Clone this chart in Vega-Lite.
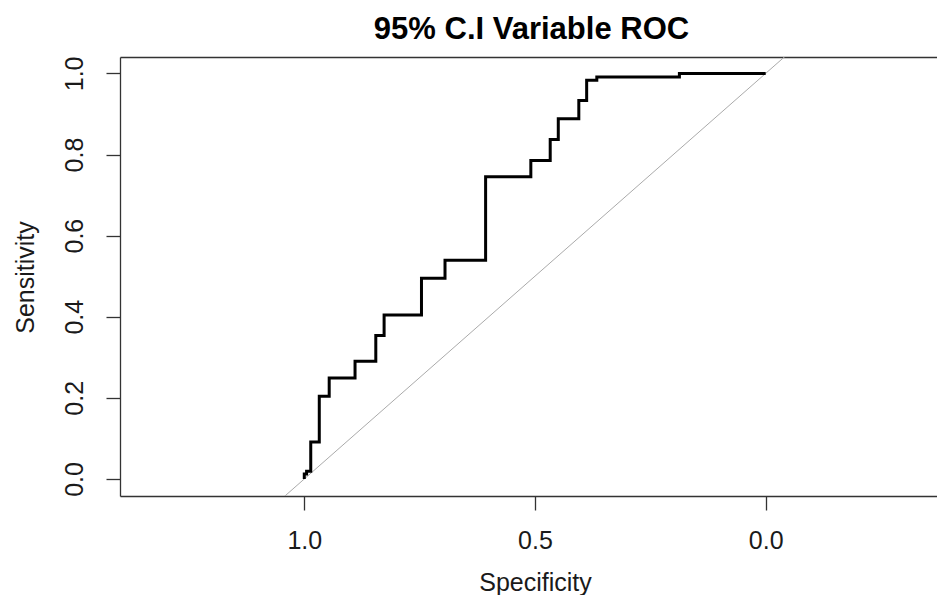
{
  "$schema": "https://vega.github.io/schema/vega-lite/v6.json",
  "width": 817,
  "height": 439,
  "autosize": {"type": "none"},
  "padding": {"left": 120, "top": 57, "right": 0, "bottom": 99},
  "background": "white",
  "title": {
    "text": "95% C.I Variable ROC",
    "font": "Liberation Sans",
    "fontSize": 31,
    "fontWeight": "bold",
    "color": "#000000",
    "anchor": "middle",
    "baseline": "alphabetic",
    "offset": -14,
    "dx": 3
  },
  "config": {
    "view": {"stroke": null},
    "axis": {
      "grid": false,
      "domainColor": "#333333",
      "domainWidth": 1.3,
      "tickColor": "#333333",
      "tickWidth": 1.3,
      "tickSize": 14,
      "labelFont": "Liberation Sans",
      "labelFontSize": 25,
      "labelColor": "#1a1a1a",
      "labelOverlap": false,
      "labelFlush": false,
      "titleFont": "Liberation Sans",
      "titleFontSize": 25,
      "titleFontWeight": "normal",
      "titleColor": "#1a1a1a"
    }
  },
  "datasets": {
    "diag": [
      {"spec": 1.2, "sens": -0.2},
      {"spec": -0.2, "sens": 1.2}
    ],
    "roc": [
      {"i": 1, "spec": 1.0, "sens": 0.0},
      {"i": 2, "spec": 1.0, "sens": 0.012},
      {"i": 3, "spec": 0.995, "sens": 0.012},
      {"i": 4, "spec": 0.995, "sens": 0.019},
      {"i": 5, "spec": 0.986, "sens": 0.019},
      {"i": 6, "spec": 0.986, "sens": 0.091},
      {"i": 7, "spec": 0.9675, "sens": 0.091},
      {"i": 8, "spec": 0.9675, "sens": 0.204},
      {"i": 9, "spec": 0.946, "sens": 0.204},
      {"i": 10, "spec": 0.946, "sens": 0.249},
      {"i": 11, "spec": 0.89, "sens": 0.249},
      {"i": 12, "spec": 0.89, "sens": 0.29},
      {"i": 13, "spec": 0.845, "sens": 0.29},
      {"i": 14, "spec": 0.845, "sens": 0.354},
      {"i": 15, "spec": 0.827, "sens": 0.354},
      {"i": 16, "spec": 0.827, "sens": 0.404},
      {"i": 17, "spec": 0.746, "sens": 0.404},
      {"i": 18, "spec": 0.746, "sens": 0.495},
      {"i": 19, "spec": 0.695, "sens": 0.495},
      {"i": 20, "spec": 0.695, "sens": 0.539},
      {"i": 21, "spec": 0.607, "sens": 0.539},
      {"i": 22, "spec": 0.607, "sens": 0.745},
      {"i": 23, "spec": 0.509, "sens": 0.745},
      {"i": 24, "spec": 0.509, "sens": 0.785},
      {"i": 25, "spec": 0.467, "sens": 0.785},
      {"i": 26, "spec": 0.467, "sens": 0.837},
      {"i": 27, "spec": 0.4495, "sens": 0.837},
      {"i": 28, "spec": 0.4495, "sens": 0.888},
      {"i": 29, "spec": 0.405, "sens": 0.888},
      {"i": 30, "spec": 0.405, "sens": 0.933},
      {"i": 31, "spec": 0.388, "sens": 0.933},
      {"i": 32, "spec": 0.388, "sens": 0.983},
      {"i": 33, "spec": 0.366, "sens": 0.983},
      {"i": 34, "spec": 0.366, "sens": 0.991},
      {"i": 35, "spec": 0.187, "sens": 0.991},
      {"i": 36, "spec": 0.187, "sens": 1.0},
      {"i": 37, "spec": 0.0, "sens": 1.0}
    ]
  },
  "layer": [
    {
      "data": {"name": "diag"},
      "mark": {"type": "line", "color": "#aaaaaa", "strokeWidth": 1, "clip": true},
      "encoding": {
        "x": {
          "field": "spec",
          "type": "quantitative",
          "scale": {"domain": [1.3994, -0.3713], "nice": false, "zero": false},
          "axis": {"orient": "top", "labels": false, "ticks": false, "title": null, "domain": true}
        },
        "y": {
          "field": "sens",
          "type": "quantitative",
          "scale": {"domain": [-0.042, 1.0404], "nice": false, "zero": false}
        }
      }
    },
    {
      "data": {"name": "roc"},
      "mark": {"type": "line", "color": "#000000", "strokeWidth": 3, "clip": true},
      "encoding": {
        "x": {
          "field": "spec",
          "type": "quantitative",
          "scale": {"domain": [1.3994, -0.3713], "nice": false, "zero": false},
          "axis": {
            "orient": "bottom",
            "values": [1, 0.5, 0],
            "format": ".1f",
            "labelBaseline": "alphabetic",
            "labelPadding": 38,
            "title": "Specificity",
            "titleBaseline": "alphabetic",
            "titleX": 415,
            "titleY": 94
          }
        },
        "y": {
          "field": "sens",
          "type": "quantitative",
          "scale": {"domain": [-0.042, 1.0404], "nice": false, "zero": false},
          "axis": {
            "values": [0, 0.2, 0.4, 0.6, 0.8, 1.0],
            "format": ".1f",
            "labelAngle": 270,
            "labelAlign": "center",
            "labelBaseline": "alphabetic",
            "labelPadding": 24,
            "title": "Sensitivity",
            "titleAngle": 270,
            "titleBaseline": "alphabetic",
            "titleAlign": "center",
            "titleX": -87,
            "titleY": 220
          }
        },
        "order": {"field": "i", "type": "quantitative"}
      }
    }
  ],
  "resolve": {"axis": {"x": "independent"}}
}
